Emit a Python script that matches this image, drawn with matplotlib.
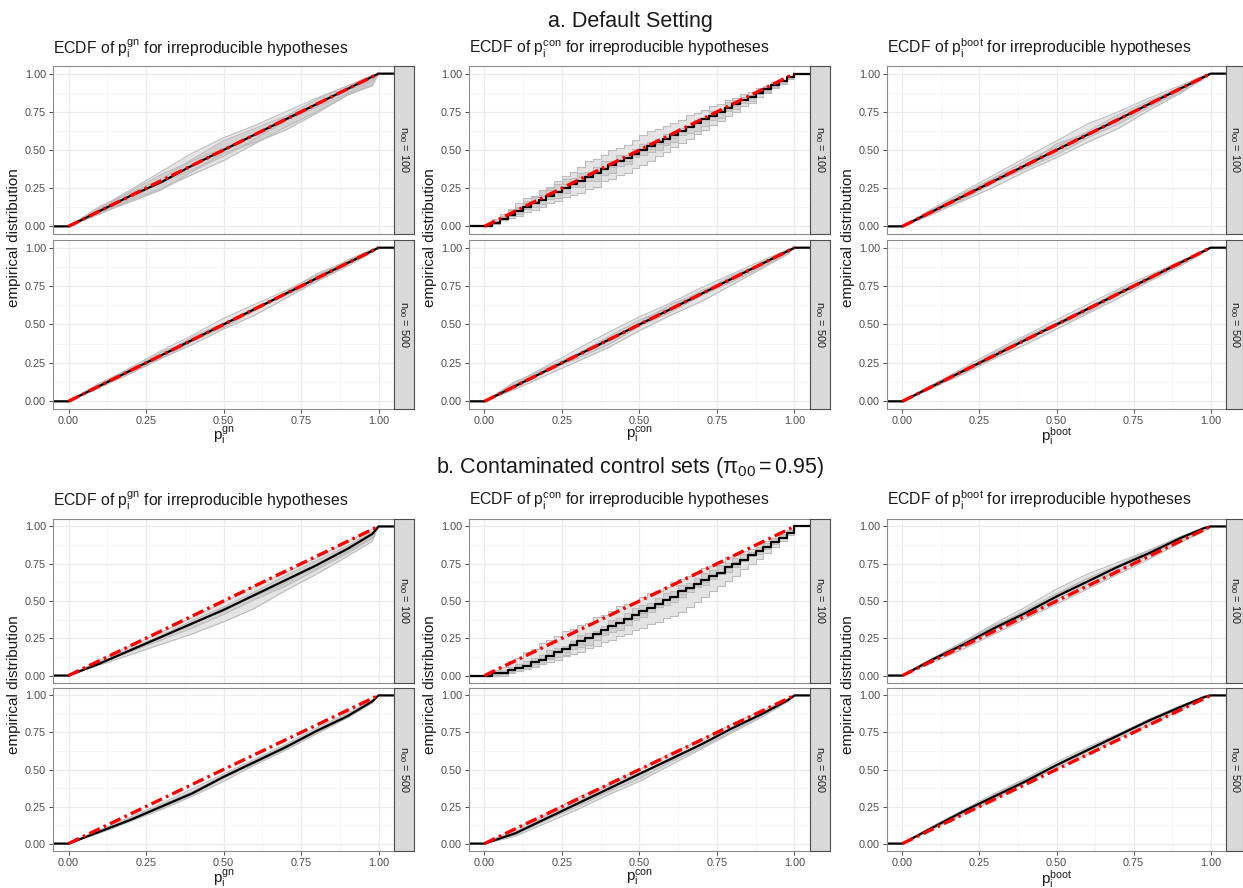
import matplotlib
matplotlib.use('Agg')
import matplotlib.pyplot as plt
import numpy as np

# Fonts ################################################
plt.rcParams['font.family'] = ['Liberation Sans', 'DejaVu Sans']
plt.rcParams['mathtext.fontset'] = 'custom'
plt.rcParams['mathtext.rm'] = 'Liberation Sans'
plt.rcParams['mathtext.it'] = 'Liberation Sans:italic'
plt.rcParams['mathtext.bf'] = 'Liberation Sans:bold'

# Data #################################################
# every curve is stored as deviation from the diagonal, in hundredths (y = x + d/100)
knots_smooth = [0.0, 0.1, 0.2, 0.3, 0.4, 0.5, 0.6, 0.7, 0.8, 0.9, 0.98, 1.0]
knots_step = [0.0, 0.025, 0.05, 0.075, 0.1, 0.125, 0.15, 0.175, 0.2, 0.225,
              0.25, 0.275, 0.3, 0.325, 0.35, 0.375, 0.4, 0.425, 0.45, 0.475,
              0.5, 0.525, 0.55, 0.575, 0.6, 0.625, 0.65, 0.675, 0.7, 0.725,
              0.75, 0.775, 0.8, 0.825, 0.85, 0.875, 0.9, 0.925, 0.95, 0.975, 1.0]

section_titles = ['a. Default Setting',
                  r'b. Contaminated control sets $\mathregular{(\pi_{00} = 0.95)}$']
methods = ['gn', 'con', 'boot']
n00_values = [100, 500]

# a. default setting
a_gn_100_black = [0, 0, 0, -1, 0, 0, 0, 0, 0, 0, 0, 0]
a_gn_100_gray = [[0, 2, 4, 6, 8, 8, 6, 5, 4, 2, 0, 0],
                 [0, -2, -3, -5, -6, -7, -6, -5, -5, -4, -5, 0],
                 [0, 1, 3, 4, 3, 1, 0, 2, 3, 2, 1, 0],
                 [0, -1, -2, -1, -3, -4, -3, -1, -2, -3, -3, 0],
                 [0, 3, 2, 1, 4, 6, 4, 2, 0, -1, -2, 0],
                 [0, -1, -4, -6, -4, -2, -5, -7, -6, -4, -6, 0]]
a_gn_500_black = [0, 0, 0, 0, 0, 0, 0, 0, 0, 0, 0, 0]
a_gn_500_gray = [[0, 1, 2, 3, 3, 4, 3, 2, 2, 1, 0, 0],
                 [0, -1, -2, -2, -3, -3, -4, -3, -2, -2, -1, 0],
                 [0, 1, 1, 0, 2, 1, -1, 0, 1, 2, 1, 0],
                 [0, 0, -1, -2, -1, 0, 1, -1, -2, -1, -1, 0],
                 [0, 2, 1, 2, 0, -2, -1, 1, 3, 1, 0, 0]]
a_con_100_black = [0, 0, 0, 0, 0, 0, 0, 0, 0, 0,
                   0, 0, 0, 0, 0, 0, 0, 0, 0, 0,
                   0, 0, 0, 0, 0, 0, 0, 0, 0, 0,
                   0, 0, 0, 0, 0, 0, 0, 0, 0, 0, 0]
a_con_100_gray = [[0, 1, 2, 3, 3, 4, 5, 6, 6, 7, 8, 8, 9, 10, 9, 9, 10, 9, 8, 9,
                   10, 10, 9, 8, 8, 7, 8, 7, 6, 6, 5, 5, 4, 4, 3, 3, 2, 2, 1, 1, 0],
                  [0, -1, -1, -2, -3, -3, -4, -5, -5, -6, -6, -7, -8, -8, -9, -8, -9, -9, -10, -9,
                   -10, -10, -9, -9, -8, -8, -8, -7, -7, -6, -6, -5, -5, -4, -4, -3, -3, -2, -2, -1, 0],
                  [0, 1, 1, 0, 2, 3, 4, 3, 5, 5, 6, 4, 5, 3, 4, 5, 3, 4, 2, 3,
                   4, 3, 2, 3, 1, 2, 1, 2, 0, 1, 0, 1, -1, 0, -1, 0, 1, 0, 0, 1, 0],
                  [0, 0, -1, -1, -2, -1, -2, -3, -2, -4, -3, -2, -4, -3, -5, -4, -5, -3, -4, -2,
                   -3, -4, -5, -4, -5, -3, -4, -5, -4, -3, -4, -2, -3, -2, -3, -1, -2, -1, -2, -1, 0],
                  [0, 2, 3, 4, 5, 6, 5, 6, 4, 5, 3, 2, 3, 1, 2, 0, -1, 0, -2, -1,
                   -3, -2, -1, -3, -2, 0, 1, 2, 1, 3, 2, 4, 3, 2, 1, 0, -1, 0, -1, 0, 0]]
a_con_500_black = [0, 0, 0, 0, 0, 0, 0, 0, 0, 0, 0, 0]
a_con_500_gray = [[0, 2, 3, 4, 5, 5, 4, 4, 3, 2, 1, 0],
                  [0, -2, -3, -4, -5, -4, -4, -5, -4, -3, -2, 0],
                  [0, 1, 2, 1, 2, 3, 1, 2, 0, 1, 0, 0],
                  [0, -1, 0, -2, -3, -1, -2, -1, -2, -2, -1, 0],
                  [0, 3, 1, 0, -1, 1, 3, 1, 2, 0, -1, 0]]
a_boot_100_black = [0, 0, 0, 0, 0, 0, 0, 0, 0, 0, 0, 0]
a_boot_100_gray = [[0, 2, 3, 4, 5, 6, 7, 5, 4, 2, 1, 0],
                   [0, -1, -3, -4, -4, -5, -5, -6, -4, -3, -1, 0],
                   [0, 1, 2, 2, 3, 2, 2, 3, 2, 1, 0, 0],
                   [0, -2, -2, -1, -2, -3, -2, -3, -2, -2, -1, 0],
                   [0, 1, 0, 2, 0, 4, 1, -1, 1, 0, 0, 0]]
a_boot_500_black = [0, 0, 0, 0, 0, 0, 0, 0, 0, 0, 0, 0]
a_boot_500_gray = [[0, 1, 2, 3, 3, 3, 3, 3, 2, 1, 0, 0],
                   [0, -1, -2, -2, -3, -3, -3, -3, -2, -2, -1, 0],
                   [0, 1, 1, 1, 2, 1, 1, 0, 1, 1, 0, 0],
                   [0, 0, -1, -1, 0, -1, -2, -1, -1, 0, 0, 0],
                   [0, 1, 0, 2, 1, -1, 0, 2, 0, -1, 0, 0]]

# b. contaminated control sets
b_gn_100_black = [0, -2, -3, -4, -5, -6, -6, -6, -6, -5, -3, 0]
b_gn_100_gray = [[0, 0, 0, -1, -1, -1, 0, -1, -1, 0, 0, 0],
                 [0, -3, -6, -9, -12, -14, -15, -13, -12, -10, -8, 0],
                 [0, -1, -2, -3, -3, -4, -4, -3, -3, -3, -2, 0],
                 [0, -2, -4, -6, -8, -9, -9, -10, -9, -8, -6, 0],
                 [0, -1, -3, -4, -6, -5, -7, -8, -6, -6, -4, 0],
                 [0, -2, -3, -5, -4, -7, -5, -6, -8, -7, -5, 0]]
b_gn_500_black = [0, -2, -4, -5, -6, -5, -5, -5, -4, -4, -2, 0]
b_gn_500_gray = [[0, -1, -2, -3, -3, -3, -3, -3, -2, -2, -1, 0],
                 [0, -3, -5, -7, -8, -8, -7, -7, -6, -5, -3, 0],
                 [0, -2, -3, -4, -5, -4, -4, -4, -3, -3, -2, 0],
                 [0, -2, -4, -6, -7, -6, -6, -6, -5, -5, -3, 0],
                 [0, -1, -3, -4, -5, -6, -5, -4, -4, -3, -2, 0]]
b_con_100_black = [0, -1, -3, -4, -5, -6, -6, -7, -7, -7,
                   -7, -7, -7, -7, -7, -7, -7, -7, -7, -7,
                   -7, -7, -7, -7, -7, -6, -6, -6, -6, -6,
                   -6, -5, -5, -5, -4, -4, -4, -3, -3, -2, 0]
b_con_100_gray = [[0, 1, 1, 2, 2, 3, 3, 4, 4, 4, 5, 4, 4, 3, 4, 3, 3, 4, 3, 2,
                   3, 3, 2, 2, 3, 2, 2, 1, 2, 1, 1, 2, 1, 1, 0, 1, 0, 0, 0, 0, 0],
                  [0, -2, -4, -5, -7, -8, -9, -10, -11, -12, -12, -13, -14, -14, -15, -15, -16, -16, -17, -17,
                   -18, -18, -19, -19, -20, -20, -19, -18, -17, -16, -15, -14, -13, -11, -10, -9, -8, -6, -5, -3, 0],
                  [0, -1, -1, -2, -2, -3, -3, -4, -3, -4, -5, -4, -3, -4, -5, -4, -3, -4, -3, -2,
                   -3, -4, -3, -2, -3, -2, -3, -2, -1, -2, -1, -2, -1, -1, -2, -1, -1, 0, -1, 0, 0],
                  [0, -3, -5, -6, -7, -8, -9, -10, -9, -10, -11, -10, -11, -12, -11, -10, -11, -12, -11, -10,
                   -11, -10, -9, -10, -11, -10, -9, -8, -9, -8, -7, -8, -7, -6, -5, -6, -5, -4, -3, -2, 0],
                  [0, -2, -3, -4, -5, -6, -7, -6, -8, -7, -9, -8, -9, -7, -8, -9, -8, -7, -8, -9,
                   -8, -7, -8, -6, -7, -8, -7, -6, -7, -5, -6, -5, -4, -5, -4, -3, -4, -2, -3, -1, 0]]
b_con_500_black = [0, -3, -3, -3, -3, -3, -3, -3, -2, -2, -1, 0]
b_con_500_gray = [[0, 0, 0, 1, 0, 0, 1, 0, 1, 0, 0, 0],
                  [0, -5, -6, -7, -7, -8, -7, -6, -5, -4, -2, 0],
                  [0, -2, -2, -3, -4, -3, -2, -3, -2, -2, -1, 0],
                  [0, -4, -4, -5, -5, -6, -5, -5, -4, -3, -2, 0],
                  [0, -3, -1, -2, -1, -2, -4, -2, -3, -1, -1, 0]]
b_boot_100_black = [0, 1, 1, 2, 2, 3, 3, 3, 2, 2, 1, 0]
b_boot_100_gray = [[0, 2, 3, 5, 6, 8, 8, 6, 4, 3, 1, 0],
                   [0, -1, -2, -2, -2, -2, -2, -2, -2, -1, -1, 0],
                   [0, 1, 2, 3, 4, 5, 5, 4, 3, 2, 1, 0],
                   [0, 0, 0, 1, 0, 1, 1, 0, 1, 0, 0, 0],
                   [0, 1, 3, 4, 3, 4, 5, 4, 4, 3, 1, 0]]
b_boot_500_black = [0, 1, 2, 2, 2, 3, 3, 3, 3, 2, 1, 0]
b_boot_500_gray = [[0, 2, 3, 4, 4, 5, 5, 4, 4, 3, 1, 0],
                   [0, 0, 0, 0, 1, 1, 0, 1, 0, 0, 0, 0],
                   [0, 1, 2, 3, 3, 3, 4, 3, 3, 2, 1, 0],
                   [0, 1, 1, 1, 2, 2, 2, 2, 2, 1, 1, 0],
                   [0, 2, 2, 3, 4, 3, 3, 4, 2, 2, 1, 0]]

# (section, column, row) -> black, gray
panel_data = {
    (0, 0, 0): (a_gn_100_black, a_gn_100_gray), (0, 0, 1): (a_gn_500_black, a_gn_500_gray),
    (0, 1, 0): (a_con_100_black, a_con_100_gray), (0, 1, 1): (a_con_500_black, a_con_500_gray),
    (0, 2, 0): (a_boot_100_black, a_boot_100_gray), (0, 2, 1): (a_boot_500_black, a_boot_500_gray),
    (1, 0, 0): (b_gn_100_black, b_gn_100_gray), (1, 0, 1): (b_gn_500_black, b_gn_500_gray),
    (1, 1, 0): (b_con_100_black, b_con_100_gray), (1, 1, 1): (b_con_500_black, b_con_500_gray),
    (1, 2, 0): (b_boot_100_black, b_boot_100_gray), (1, 2, 1): (b_boot_500_black, b_boot_500_gray),
}

# Layout (pixels) ######################################
W, H = 1243, 888
col_left = [53, 469, 887]
col_width = [341, 341, 339]
strip_width = [20, 20, 17]
row_top = [[66, 240], [519, 688]]
row_height = [[168, 169], [164, 163]]
title_base = [53, 505]
section_title_y = [21, 468]
xlabel_top = [425, 868]


def box(l, t, w, h):
    return [l / W, 1 - (t + h) / H, w / W, h / H]


def style_axes(ax, bottom):
    ax.set_xlim(-0.05, 1.05)
    ax.set_ylim(-0.05, 1.05)
    ticks = [0, 0.25, 0.5, 0.75, 1.0]
    ax.set_xticks(ticks)
    ax.set_yticks(ticks)
    ax.set_xticks([0.125, 0.375, 0.625, 0.875], minor=True)
    ax.set_yticks([0.125, 0.375, 0.625, 0.875], minor=True)
    ax.set_xticklabels(['0.00', '0.25', '0.50', '0.75', '1.00'])
    ax.set_yticklabels(['0.00', '0.25', '0.50', '0.75', '1.00'])
    ax.grid(which='major', color='#ebebeb', lw=0.9)
    ax.grid(which='minor', color='#f5f5f5', lw=0.6)
    ax.set_axisbelow(True)
    ax.tick_params(which='minor', length=0)
    ax.tick_params(which='major', length=3, width=0.6, color='#333333',
                   labelsize=7.8, labelcolor='#4d4d4d', pad=2)
    if not bottom:
        ax.tick_params(axis='x', bottom=False, labelbottom=False)
    for s in ax.spines.values():
        s.set_color('#8c8c8c')
        s.set_linewidth(0.8)


def draw_panel(ax, knots, black, gray, steps):
    x = np.array(knots)
    ds = 'steps-post' if steps else 'default'
    st = 'post' if steps else None
    curves = np.array([np.clip(x + np.array(g) / 100, 0, 1) for g in gray])
    srt = np.sort(curves, axis=0)
    # outer and inner envelope of the replicate curves
    ax.fill_between(x, srt[0], srt[-1], color='#e4e4e4', lw=0, step=st)
    ax.fill_between(x, srt[1], srt[-2], color='#d2d2d2', lw=0, step=st)
    for c in curves:
        ax.plot(x, c, color='#bdbdbd', lw=0.8, drawstyle=ds)
    yb = np.clip(x + np.array(black) / 100, 0, 1)
    ax.plot(np.r_[-0.05, x, 1.05], np.r_[0, yb, 1], color='black', lw=1.6, drawstyle=ds)
    ax.plot([0, 1], [0, 1], color='#ff0000', lw=2.4, ls=(0, (3.5, 1.3, 0.8, 1.3)))


# Figure ###############################################
fig = plt.figure(figsize=(W / 100, H / 100), dpi=100)

for sec in range(2):
    fig.text(630 / W, 1 - section_title_y[sec] / H, section_titles[sec],
             ha='center', va='center', fontsize=15.5, color='#1a1a1a')
    for col in range(3):
        m = methods[col]
        l = col_left[col]
        w = col_width[col]
        fig.text(l / W, 1 - title_base[sec] / H,
                 r'ECDF of $\mathregular{p_i^{%s}}$ for irreproducible hypotheses' % m,
                 ha='left', va='baseline', fontsize=11.3, color='#1a1a1a')
        for row in range(2):
            t = row_top[sec][row]
            h = row_height[sec][row]
            ax = fig.add_axes(box(l, t, w, h))
            black, gray = panel_data[(sec, col, row)]
            steps = (m == 'con' and row == 0)
            knots = knots_step if steps else knots_smooth
            draw_panel(ax, knots, black, gray, steps)
            style_axes(ax, row == 1)

            # facet strip
            sa = fig.add_axes(box(l + w, t, strip_width[col], h))
            sa.set_facecolor('#d9d9d9')
            sa.set_xticks([])
            sa.set_yticks([])
            for s in sa.spines.values():
                s.set_color('#4d4d4d')
                s.set_linewidth(0.8)
            sa.text(0.5, 0.5, r'$\mathregular{n_{00}}$ = %d' % n00_values[row],
                    rotation=270, ha='center', va='center', fontsize=7.8,
                    color='#1a1a1a', transform=sa.transAxes)

        # axis labels
        fig.text((l + w / 2) / W, 1 - xlabel_top[sec] / H,
                 r'$\mathregular{p_i^{%s}}$' % m, ha='center', va='top',
                 fontsize=11, color='#1a1a1a')
        ymid = (row_top[sec][0] + row_top[sec][1] + row_height[sec][1]) / 2
        fig.text((l - 39) / W, 1 - ymid / H, 'empirical distribution',
                 rotation=90, ha='center', va='center', fontsize=11, color='#1a1a1a')

plt.savefig('out.png', dpi=100)
